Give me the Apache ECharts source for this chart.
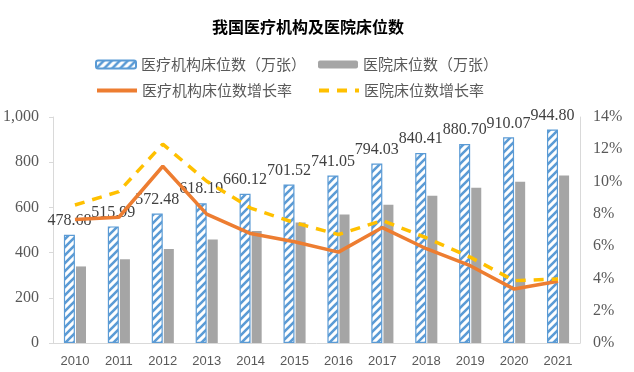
<!DOCTYPE html>
<html>
<head>
<meta charset="utf-8">
<script src="https://cdn.jsdelivr.net/npm/echarts@6/dist/echarts.min.js"></script>
<style>html,body{margin:0;padding:0;background:#fff}#c{width:634px;height:372px}</style>
</head>
<body>
<div id="c"></div>
<script>
const years = ['2010','2011','2012','2013','2014','2015','2016','2017','2018','2019','2020','2021'];
const instBeds = [478.68, 515.99, 572.48, 618.19, 660.12, 701.52, 741.05, 794.03, 840.41, 880.70, 910.07, 944.80];
const hospBeds = [338.74, 370.51, 416.15, 457.86, 496.12, 533.06, 568.89, 612.05, 651.97, 686.65, 713.12, 741.42];
const instGrowth = [7.65, 7.79, 10.95, 7.98, 6.78, 6.27, 5.63, 7.15, 5.84, 4.79, 3.34, 3.82];
const hospGrowth = [8.55, 9.38, 12.32, 10.02, 8.36, 7.45, 6.72, 7.59, 6.52, 5.32, 3.86, 3.97];
const leftTicks = [0, 200, 400, 600, 800, 1000];
const rightTicks = [0, 2, 4, 6, 8, 10, 12, 14];

function makePattern() {
  const s = 8;
  const c = document.createElement('canvas');
  c.width = s; c.height = s;
  const ctx = c.getContext('2d');
  ctx.fillStyle = '#fff';
  ctx.fillRect(0, 0, s, s);
  ctx.strokeStyle = '#5B9BD5';
  ctx.lineWidth = 2.6;
  ctx.beginPath();
  ctx.moveTo(-s, s * 2); ctx.lineTo(s * 2, -s);
  ctx.moveTo(-s, s); ctx.lineTo(s, -s);
  ctx.moveTo(0, s * 2); ctx.lineTo(s * 2, 0);
  ctx.stroke();
  return c;
}
const pattern = { image: makePattern(), repeat: 'repeat' };

const serif = '"Liberation Serif", "Times New Roman", serif';
const cjk = '"Noto Sans CJK SC", sans-serif';
const names = ['医疗机构床位数（万张）', '医院床位数（万张）', '医疗机构床位数增长率', '医院床位数增长率'];

function leg(name, left, top, isLine) {
  const o = {
    data: [name], left: left, top: top, padding: 0, itemWidth: 40, itemHeight: 8, itemGap: 5,
    textStyle: { fontFamily: cjk, fontSize: 15, color: '#595959' }
  };
  if (isLine) { o.itemStyle = { opacity: 0 }; o.lineStyle = { width: 4 }; }
  return o;
}

const chart = echarts.init(document.getElementById('c'), null, { renderer: 'canvas' });
chart.setOption({
  animation: false,
  title: {
    text: '我国医疗机构及医院床位数', left: 212, top: 19, padding: 0,
    textStyle: { fontFamily: cjk, fontSize: 16, fontWeight: 'bold', color: '#000' }
  },
  legend: [
    leg(names[0], 95, 57, false), leg(names[1], 318, 57, false),
    leg(names[2], 95, 83, true), leg(names[3], 317, 83, true)
  ],
  grid: { left: 53, right: 54, top: 117, bottom: 29 },
  xAxis: {
    type: 'category', data: years,
    axisLine: { lineStyle: { color: '#D9D9D9', width: 1 } },
    axisTick: { show: false },
    axisLabel: { fontFamily: '"Liberation Sans", Arial, sans-serif', fontSize: 13, color: '#595959', margin: 12 }
  },
  yAxis: [
    {
      type: 'value', min: leftTicks[0], max: leftTicks[leftTicks.length - 1], interval: 200,
      axisLine: { show: true, lineStyle: { color: '#D9D9D9' } },
      axisTick: { show: true, length: 4, lineStyle: { color: '#D9D9D9' } },
      splitLine: { show: false },
      axisLabel: {
        fontFamily: serif, fontSize: 16, color: '#595959', margin: 14,
        formatter: v => v.toLocaleString('en-US')
      }
    },
    {
      type: 'value', min: rightTicks[0], max: rightTicks[rightTicks.length - 1], interval: 2,
      axisLine: { show: true, lineStyle: { color: '#D9D9D9' } },
      axisTick: { show: false },
      splitLine: { show: false },
      axisLabel: { fontFamily: serif, fontSize: 16, color: '#595959', margin: 13, formatter: '{value}%' }
    }
  ],
  series: [
    {
      name: names[0], type: 'bar', data: instBeds, barWidth: 11, barGap: '10%',
      itemStyle: { color: pattern, borderColor: '#5B9BD5', borderWidth: 1.2 },
      label: {
        show: true, position: 'top', distance: 6,
        fontFamily: serif, fontSize: 16, color: '#404040',
        formatter: p => p.value.toFixed(2)
      },
      z: 2
    },
    {
      name: names[1], type: 'bar', data: hospBeds, barWidth: 10,
      itemStyle: { color: '#A5A5A5' }, z: 2
    },
    {
      name: names[2], type: 'line', yAxisIndex: 1, data: instGrowth,
      showSymbol: false, symbol: 'none',
      itemStyle: { color: '#ED7D31' },
      lineStyle: { color: '#ED7D31', width: 3.5 }, z: 3
    },
    {
      name: names[3], type: 'line', yAxisIndex: 1, data: hospGrowth,
      showSymbol: false, symbol: 'none',
      itemStyle: { color: '#FFC000' },
      lineStyle: { color: '#FFC000', width: 3.5, type: [10, 8] }, z: 3
    }
  ]
});
</script>
</body>
</html>
